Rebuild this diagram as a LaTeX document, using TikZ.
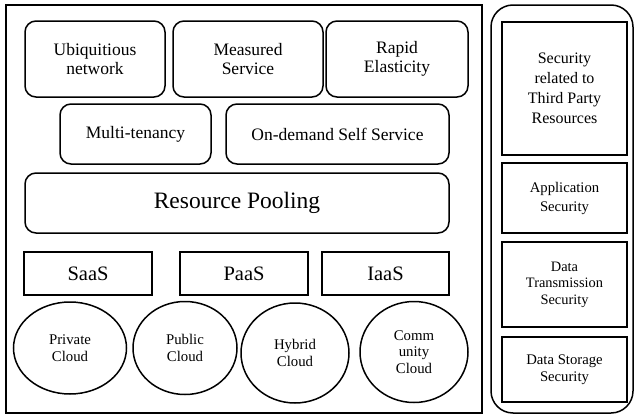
\documentclass[tikz,border=0pt]{standalone}
\usepackage{fontspec}
\setmainfont{Liberation Serif}
\usetikzlibrary{shapes.geometric}

\begin{document}
\begin{tikzpicture}[x=1pt,y=-1pt,
  feature/.style={draw,line width=1.5pt,rounded corners=11pt,align=center,inner sep=0pt,font=\fontsize{17.5}{19}\selectfont},
  layer/.style={draw,line width=1.5pt,align=center,inner sep=0pt,font=\fontsize{20.5}{22}\selectfont},
  deploy/.style={draw,ellipse,line width=1.5pt,align=center,inner sep=0pt,font=\fontsize{14.8}{16.5}\selectfont},
  secbox/.style={draw,line width=1.5pt,align=center,inner sep=0pt,minimum width=125pt,font=\fontsize{14.7}{17}\selectfont}]
\useasboundingbox (0,0) rectangle (635,415);

% containers
\draw[line width=1.5pt] (6,5) rectangle (482,413);
\draw[line width=1.5pt,rounded corners=22pt] (491,5) rectangle (633,413);

% characteristics
\node[feature,minimum width=140pt,minimum height=76pt] (ubiq) at (95,59) {Ubiquitious\\network};
\node[feature,minimum width=150pt,minimum height=76pt] (measured) at (248,59) {Measured\\Service};
\node[feature,minimum width=142pt,minimum height=76pt] (rapid) at (397,59) {Rapid\\Elasticity};
\node[feature,minimum width=151pt,minimum height=60pt] (multi) at (135.5,134) {Multi-tenancy};
\node[feature,minimum width=223pt,minimum height=60pt] (ondemand) at (337.5,134) {On-demand Self Service};
\node[feature,minimum width=424pt,minimum height=60pt,font=\fontsize{23.5}{26}\selectfont] (pooling) at (237,203) {Resource Pooling};

% service models
\node[layer,minimum width=128pt,minimum height=43pt] (saas) at (88,273.5) {SaaS};
\node[layer,minimum width=128pt,minimum height=43pt] (paas) at (244,273.5) {PaaS};
\node[layer,minimum width=127pt,minimum height=43pt] (iaas) at (385.5,273.5) {IaaS};

% deployment models
\node[deploy,minimum width=113pt,minimum height=92pt] (private) at (70,348) {Private\\Cloud};
\node[deploy,minimum width=104pt,minimum height=93pt] (public) at (185,348) {Public\\Cloud};
\node[deploy,minimum width=108pt,minimum height=100pt] (hybrid) at (295,353) {Hybrid\\Cloud};
\node[deploy,minimum width=108pt,minimum height=101pt] (community) at (414,352) {Comm\\unity\\Cloud};

% security issues
\node[secbox,minimum height=133pt,font=\fontsize{16}{20}\selectfont] (thirdparty) at (564.5,88.5) {Security\\related to\\Third Party\\Resources};
\node[secbox,minimum height=70pt,font=\fontsize{14.7}{19}\selectfont] (appsec) at (564.5,198) {Application\\Security};
\node[secbox,minimum height=85pt,font=\fontsize{14.4}{16.5}\selectfont] (transsec) at (564.5,284.5) {Data\\Transmission\\Security};
\node[secbox,minimum height=65pt] (storesec) at (564.5,369.5) {Data Storage\\Security};
\end{tikzpicture}
\end{document}
